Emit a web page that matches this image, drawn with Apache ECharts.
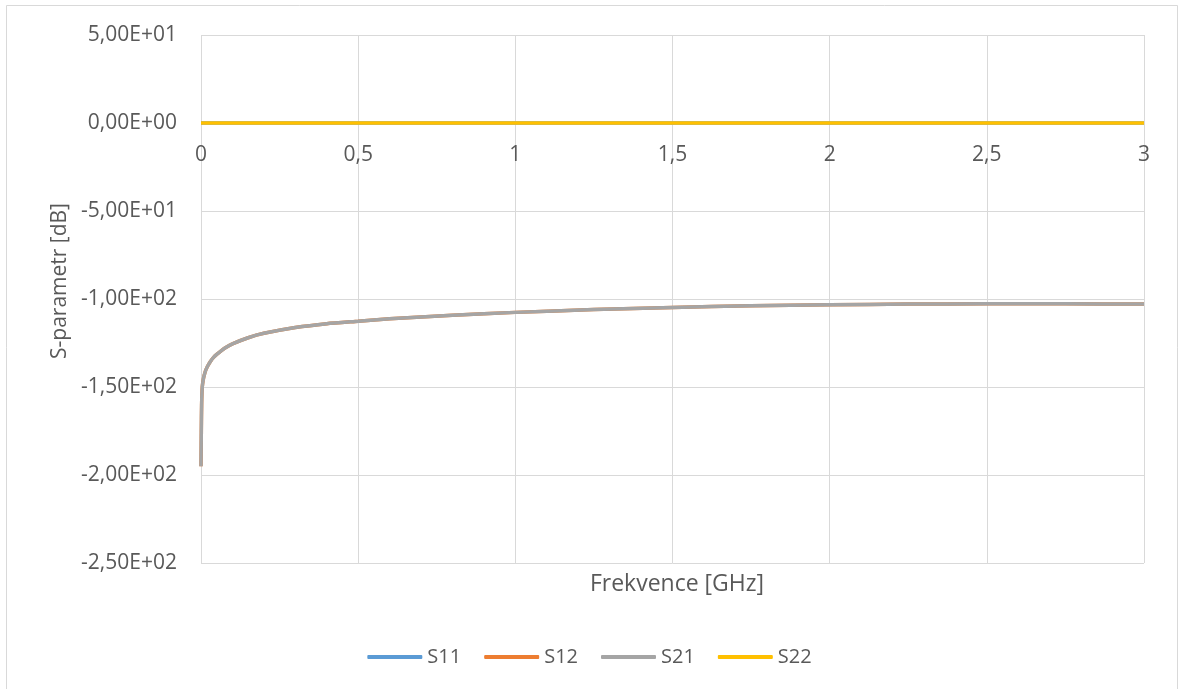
<!DOCTYPE html>
<html>
<head>
<meta charset="utf-8">
<script src="https://cdn.jsdelivr.net/npm/echarts@6/dist/echarts.min.js"></script>
<style>
html,body{margin:0;padding:0;background:#fff;}
#chart{width:1179px;height:689px;}
</style>
</head>
<body>
<div id="chart"></div>
<script>
// Frequency points [GHz]
const freq = [0, 0.001, 0.002, 0.004, 0.007, 0.01, 0.015, 0.02, 0.03, 0.04, 0.05, 0.075, 0.1, 0.15, 0.2, 0.3, 0.4, 0.5, 0.6, 0.8, 1.0, 1.25, 1.5, 1.75, 2.0, 2.25, 2.5, 2.75, 3.0];
// S-parameters [dB]
const s11 = [0, 0, 0, 0, 0, 0, 0, 0, 0, 0, 0, 0, 0, 0, 0, 0, 0, 0, 0, 0, 0, 0, 0, 0, 0, 0, 0, 0, 0];
const s12 = [-195, -175, -160, -150, -146, -143.5, -140.5, -138.5, -135.5, -133.2, -131.5, -128, -125.5, -122, -119.5, -116.2, -114, -112.6, -111.2, -109.2, -107.6, -106, -104.8, -103.9, -103.3, -102.9, -102.7, -102.7, -102.9];
const s21 = [-195, -175, -160, -150, -146, -143.5, -140.5, -138.5, -135.5, -133.2, -131.5, -128, -125.5, -122, -119.5, -116.2, -114, -112.6, -111.2, -109.2, -107.6, -106, -104.8, -103.9, -103.3, -102.9, -102.7, -102.7, -102.9];
const s22 = [0, 0, 0, 0, 0, 0, 0, 0, 0, 0, 0, 0, 0, 0, 0, 0, 0, 0, 0, 0, 0, 0, 0, 0, 0, 0, 0, 0, 0];
const seriesNames = ['S11', 'S12', 'S21', 'S22'];
const seriesColors = ['#5b9bd5', '#ed7d31', '#a5a5a5', '#ffc000'];
const xAxisTitle = 'Frekvence [GHz]';
const yAxisTitle = 'S-parametr [dB]';

function pair(vals) { return freq.map((f, i) => [f, vals[i]]); }
function fmtExp(v) {
  let s = Number(v).toExponential(2);
  let m = s.match(/^(-?[\d.]+)e([+-])(\d+)$/);
  let exp = m[3].length < 2 ? '0' + m[3] : m[3];
  return m[1].replace('.', ',') + 'E' + m[2] + exp;
}

const FONT = 'Open Sans';
const chart = echarts.init(document.getElementById('chart'), null, {renderer: 'canvas'});
const allVals = [s11, s12, s21, s22];
chart.setOption({
  animation: false,
  backgroundColor: '#ffffff',
  textStyle: {fontFamily: FONT},
  title: {
    text: xAxisTitle, left: 672, top: 568, textAlign: 'center',
    textStyle: {color: '#595959', fontFamily: FONT, fontSize: 23, fontWeight: 'normal'}
  },
  graphic: [{
    type: 'rect', silent: true,
    shape: {x: 6.5, y: 5.5, width: 1171, height: 700},
    style: {fill: 'none', stroke: '#d9d9d9', lineWidth: 1}
  }],
  grid: {left: 201, right: 35, top: 35, bottom: 126, containLabel: false},
  legend: {
    bottom: 17, left: 'center',
    icon: 'roundRect',
    itemWidth: 55, itemHeight: 4, itemGap: 23,
    textStyle: {fontFamily: FONT, fontSize: 20, color: '#595959'},
    data: seriesNames
  },
  xAxis: {
    type: 'value', min: 0, max: 3, interval: 0.5, position: 'top',
    axisLine: {show: false, onZero: false},
    axisTick: {show: false},
    axisLabel: {inside: true, margin: 110, color: '#595959', fontFamily: FONT, fontSize: 21,
      formatter: v => String(v).replace('.', ',')},
    splitLine: {show: true, lineStyle: {color: '#d9d9d9', width: 1}}
  },
  yAxis: {
    type: 'value', min: -250, max: 50, interval: 50,
    axisLine: {show: false, onZero: false}, axisTick: {show: false},
    axisLabel: {margin: 24, color: '#595959', fontFamily: FONT, fontSize: 21, formatter: fmtExp},
    splitLine: {show: true, lineStyle: {color: '#d9d9d9', width: 1}},
    name: yAxisTitle, nameLocation: 'middle', nameGap: 127,
    nameTextStyle: {color: '#595959', fontFamily: FONT, fontSize: 21, padding: [0, 0, 0, 36]}
  },
  series: seriesNames.map((n, i) => ({
    name: n, type: 'line',
    data: pair(allVals[i]),
    smooth: 0.2, showSymbol: false, symbol: 'none',
    lineStyle: {color: seriesColors[i], width: 3.5},
    itemStyle: {color: seriesColors[i]}
  }))
});
</script>
</body>
</html>
